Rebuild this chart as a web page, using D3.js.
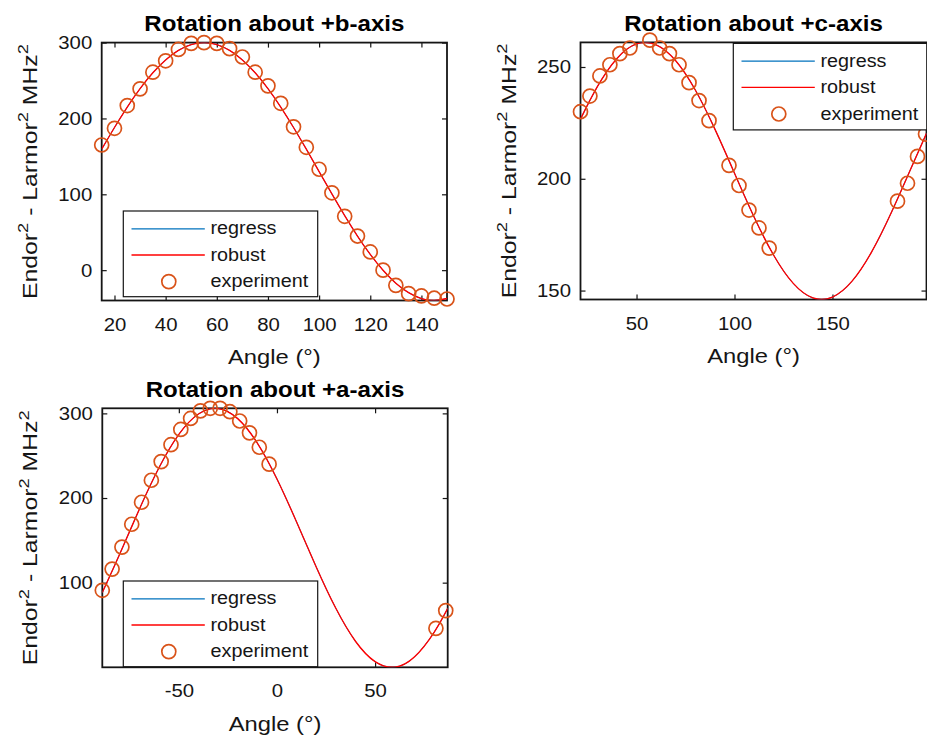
<!DOCTYPE html>
<html><head><meta charset="utf-8">
<script src="https://cdn.jsdelivr.net/npm/d3@7/dist/d3.min.js"></script>
<style>
body{margin:0;background:#fff}
svg{display:block}
text{font-family:"Liberation Sans",Arial,Helvetica,sans-serif}
</style>
</head><body>
<svg id="chart" width="927" height="735"></svg>
<script>
// ---------- data ----------
// Rotation about +b-axis
const anglesB = [15,20,25,30,35,40,45,50,55,60,65,70,75,80,85,90,95,100,105,110,115,120,125,130,135,140,145,150];
const expB    = [165,187,217,239,261,276,291,299,300,299,292,281,261,243,220,189,162,133,102,71,45,24,0,-20,-31,-34,-37,-38];
const fitAnglesB = [15,20,25,30,35,40,45,50,55,60,65,70,75,80,85,90,95,100,105,110,115,120,125,130,135,140,145,150];
const regressB = [159.5,188.1,215,239.3,260.2,277.2,289.7,297.4,300,297.4,289.7,277.2,260.2,239.3,215,188.1,159.5,130,100.5,71.9,45,20.7,-0.2,-17.2,-29.7,-37.4,-40,-37.4];
const robustB  = [159.5,188.1,215,239.3,260.2,277.2,289.7,297.4,300,297.4,289.7,277.2,260.2,239.3,215,188.1,159.5,130,100.5,71.9,45,20.7,-0.2,-17.2,-29.7,-37.4,-40,-37.4];
const xTicksB = [20,40,60,80,100,120,140];
const yTicksB = [0,100,200,300];

// Rotation about +c-axis
const anglesC = [21.4,26.2,31.3,36.4,41.5,46.6,56.8,61.8,66.8,71.7,76.8,81.9,87.0,97.2,102.3,107.4,112.5,117.7,183.2,188.3,193.4,197.5];
const expC    = [230,237,246,251,256,258.5,262,258.5,256,251,243,235,226,206,197,186,178,169,190,198,210,220];
const fitAnglesC = [21.4,30,40,50,60,70,80,90,100,110,120,130,140,150,160,170,180,190,198];
const regressC = [226.7,241.2,253.8,260.3,259.9,252.8,239.7,222.2,202.5,182.9,165.8,153.2,146.7,147.1,154.2,167.3,184.8,204.5,220.3];
const robustC  = [226.7,241.2,253.8,260.3,259.9,252.8,239.7,222.2,202.5,182.9,165.8,153.2,146.7,147.1,154.2,167.3,184.8,204.5,220.3];
const xTicksC = [50,100,150];
const yTicksC = [150,200,250];

// Rotation about +a-axis
const anglesA = [-89,-84,-79,-74,-69,-64,-59,-54,-49,-44,-39,-34,-29,-24,-19,-14,-9,-4,81,86];
const expA    = [91,116,142,169,195,221,243,263,281,294,303,306,306,302,291,277,260,240,46,67];
const fitAnglesA = [-89,-80,-70,-60,-50,-40,-30,-20,-10,0,10,20,30,40,50,60,70,80,87];
const regressA = [88.3,134.4,187.4,236.3,275.2,299.3,305.8,293.8,264.9,222.5,171.7,118.6,69.7,30.8,6.7,0.2,12.2,41.1,69.7];
const robustA  = [88.3,134.4,187.4,236.3,275.2,299.3,305.8,293.8,264.9,222.5,171.7,118.6,69.7,30.8,6.7,0.2,12.2,41.1,69.7];
const xTicksA = [-50,0,50];
const yTicksA = [100,200,300];

const legendLabels = ["regress","robust","experiment"];

// ---------- layout & style ----------
const K = 1.1;               // horizontal glyph stretch
const AX = "#151515";
const BLUE = "#0072BD", RED = "#FF0000", ORANGE = "#D95319";
const FONT_TICK = 18.5, FONT_LABEL = 20.5, FONT_TITLE = 22.3, FONT_LEG = 18.5;

const panels = [
  {title:"Rotation about +b-axis", L:101.7, T:42.6, R:447, B:300.5, xd:[15,150], yd:[-40,300],
   ang:anglesB, exp:expB, fa:fitAnglesB, reg:regressB, rob:robustB, xt:xTicksB, yt:yTicksB,
   leg:{x:123.3, y:211, w:194.4, h:85.7}},
  {title:"Rotation about +c-axis", L:580.5, T:42.4, R:926.5, B:299.5, xd:[21.4,198], yd:[146,261],
   ang:anglesC, exp:expC, fa:fitAnglesC, reg:regressC, rob:robustC, xt:xTicksC, yt:yTicksC,
   leg:{x:733.3, y:43.4, w:193.5, h:86.5}},
  {title:"Rotation about +a-axis", L:102.3, T:408.3, R:447.7, B:667.3, xd:[-89,87], yd:[0,306],
   ang:anglesA, exp:expA, fa:fitAnglesA, reg:regressA, rob:robustA, xt:xTicksA, yt:yTicksA,
   leg:{x:123.3, y:581, w:194.4, h:85.7}}
];

const svg = d3.select("#chart");
const fmt = d => String(d);   // plain hyphen-minus like the reference

panels.forEach((p, i) => {
  const x = d3.scaleLinear().domain(p.xd).range([p.L, p.R]);
  const y = d3.scaleLinear().domain(p.yd).range([p.B, p.T]);
  const g = svg.append("g");

  const styleAxis = (ax) => {
    ax.select(".domain").remove();
    ax.attr("font-family", null).attr("font-size", FONT_TICK);
    ax.selectAll(".tick line").attr("stroke", AX).attr("stroke-width", 1.2);
    ax.selectAll(".tick text").attr("fill", AX);
  };
  const gx = g.append("g").attr("transform", `translate(0,${p.B})`)
    .call(d3.axisBottom(x).tickValues(p.xt).tickFormat(fmt).tickSizeInner(-5).tickSizeOuter(0).tickPadding(17));
  styleAxis(gx);
  gx.selectAll(".tick text").attr("transform", `scale(${K},1)`);

  const gy = g.append("g").attr("transform", `translate(${p.L},0)`)
    .call(d3.axisLeft(y).tickValues(p.yt).tickFormat(fmt).tickSizeInner(-5).tickSizeOuter(0).tickPadding(9));
  styleAxis(gy);
  gy.selectAll(".tick text").attr("x", -9.5 / K).attr("transform", `scale(${K},1)`);

  const gt = g.append("g").attr("transform", `translate(0,${p.T})`)
    .call(d3.axisTop(x).tickValues(p.xt).tickSizeInner(-5).tickSizeOuter(0).tickFormat(""));
  styleAxis(gt);
  const gr = g.append("g").attr("transform", `translate(${p.R},0)`)
    .call(d3.axisRight(y).tickValues(p.yt).tickSizeInner(-5).tickSizeOuter(0).tickFormat(""));
  styleAxis(gr);

  g.append("rect").attr("x", p.L).attr("y", p.T).attr("width", p.R - p.L).attr("height", p.B - p.T)
    .attr("fill", "none").attr("stroke", AX).attr("stroke-width", 1.8);

  const cid = "clip" + i;
  svg.append("clipPath").attr("id", cid).append("rect")
    .attr("x", p.L).attr("y", p.T).attr("width", p.R - p.L).attr("height", p.B - p.T);

  const line = d3.line().curve(d3.curveNatural).x(d => x(d[0])).y(d => y(d[1]));
  g.append("path").datum(p.fa.map((a, j) => [a, p.reg[j]]))
    .attr("d", line).attr("fill", "none").attr("stroke", BLUE).attr("stroke-width", 1.0)
    .attr("clip-path", `url(#${cid})`);
  g.append("path").datum(p.fa.map((a, j) => [a, p.rob[j]]))
    .attr("d", line).attr("fill", "none").attr("stroke", RED).attr("stroke-width", 1.35)
    .attr("clip-path", `url(#${cid})`);

  g.append("g").selectAll("circle").data(p.ang.map((a, j) => [a, p.exp[j]])).join("circle")
    .attr("cx", d => x(d[0])).attr("cy", d => y(d[1])).attr("r", 7)
    .attr("fill", "none").attr("stroke", ORANGE).attr("stroke-width", 1.7);

  g.append("text").attr("transform", `translate(${(p.L + p.R) / 2},${p.T - 11.5}) scale(1.08,1)`)
    .attr("text-anchor", "middle").attr("font-size", FONT_TITLE).attr("font-weight", "bold")
    .attr("fill", "#000").text(p.title);

  g.append("text").attr("transform", `translate(${(p.L + p.R) / 2},${p.B + 63.5}) scale(1.16,1)`)
    .attr("text-anchor", "middle").attr("font-size", FONT_LABEL).attr("fill", AX).text("Angle (°)");

  const yl = g.append("text")
    .attr("transform", `translate(${p.L - 65},${(p.T + p.B) / 2}) rotate(-90) scale(1.18,1)`)
    .attr("text-anchor", "middle").attr("font-size", 21).attr("fill", AX);
  const parts = [["Endor", 0], ["2", 1], [" - Larmor", 0], ["2", 1], [" MHz", 0], ["2", 1]];
  let prevSup = 0;
  parts.forEach(([t, sup]) => {
    const ts = yl.append("tspan").text(t);
    if (sup) ts.attr("font-size", 15.5).attr("dy", -8.5);
    else if (prevSup) ts.attr("dy", 8.5);
    prevSup = sup;
  });

  const lg = g.append("g").attr("transform", `translate(${p.leg.x},${p.leg.y})`);
  lg.append("rect").attr("width", p.leg.w).attr("height", p.leg.h)
    .attr("fill", "#fff").attr("stroke", AX).attr("stroke-width", 1.2);
  const rows = [17.8, 44, 70.6];
  const colors = [BLUE, RED, ORANGE];
  legendLabels.forEach((lab, j) => {
    const ry = rows[j];
    if (j < 2) {
      lg.append("line").attr("x1", 8.2).attr("x2", 81.5).attr("y1", ry).attr("y2", ry)
        .attr("stroke", colors[j]).attr("stroke-width", 1.3);
    } else {
      lg.append("circle").attr("cx", 45.5).attr("cy", ry).attr("r", 7)
        .attr("fill", "none").attr("stroke", ORANGE).attr("stroke-width", 1.7);
    }
    lg.append("text").attr("transform", `translate(87.2,${ry + 5.5}) scale(1.07,1)`)
      .attr("font-size", FONT_LEG).attr("fill", AX).text(lab);
  });
});
</script>
</body></html>
